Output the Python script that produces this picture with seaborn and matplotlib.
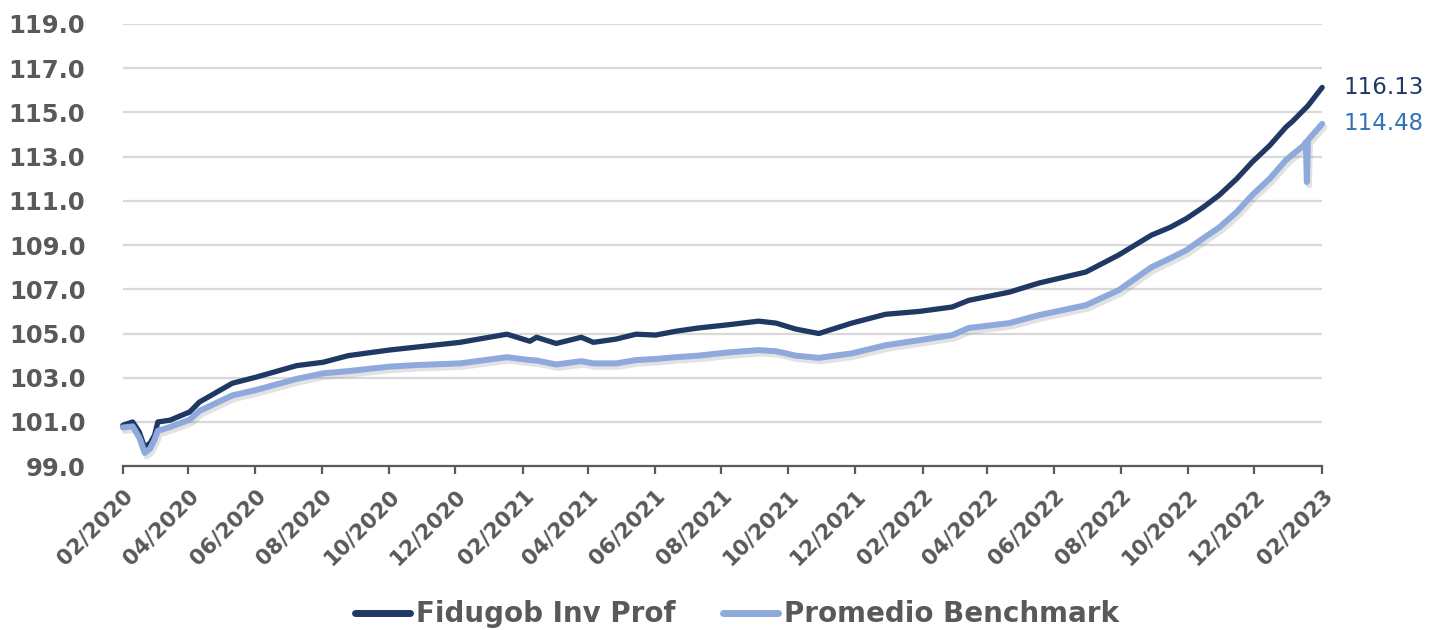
import pandas as pd
import matplotlib.pyplot as plt
import matplotlib.dates as mdates
import matplotlib.ticker as mticker
import matplotlib.patheffects as pe
import seaborn as sns

# ── Datos ────────────────────────────────────────────────
fechas = [
    "2020-02-01", "2020-02-10", "2020-02-16", "2020-02-21", "2020-02-26",
    "2020-03-01", "2020-03-04", "2020-03-15", "2020-04-02", "2020-04-11",
    "2020-05-11", "2020-06-02", "2020-07-09", "2020-08-02", "2020-08-25",
    "2020-10-01", "2020-10-25", "2020-12-05", "2021-01-17", "2021-02-07",
    "2021-02-13", "2021-03-03", "2021-03-26", "2021-04-06", "2021-04-27",
    "2021-05-15", "2021-06-02", "2021-06-20", "2021-07-11", "2021-08-08",
    "2021-09-04", "2021-09-20", "2021-10-08", "2021-10-29", "2021-11-28",
    "2021-12-29", "2022-01-29", "2022-02-28", "2022-03-15", "2022-04-21",
    "2022-05-18", "2022-06-30", "2022-07-30", "2022-08-29", "2022-09-15",
    "2022-09-30", "2022-10-15", "2022-10-30", "2022-11-15", "2022-11-29",
    "2022-12-15", "2022-12-30", "2023-01-05", "2023-01-15", "2023-01-17",
    "2023-01-18", "2023-01-19", "2023-02-01",
]
fidugob = [
    100.85, 101.0, 100.55, 99.85, 100.05,
    100.4, 101.0, 101.08, 101.45, 101.9,
    102.75, 103.03, 103.55, 103.7, 104.0,
    104.25, 104.38, 104.6, 104.97, 104.65,
    104.83, 104.55, 104.83, 104.6, 104.75,
    104.97, 104.93, 105.1, 105.25, 105.4,
    105.56, 105.47, 105.2, 105.0, 105.47,
    105.87, 106.0, 106.2, 106.5, 106.87,
    107.28, 107.78, 108.55, 109.45, 109.8,
    110.2, 110.7, 111.26, 112.0, 112.75,
    113.5, 114.34, 114.6, 115.1, 115.2,
    115.25, 115.3, 116.13,
]
benchmark = [
    100.75, 100.8, 100.3, 99.6, 99.8,
    100.2, 100.6, 100.77, 101.1, 101.5,
    102.2, 102.45, 102.95, 103.2, 103.3,
    103.5, 103.57, 103.65, 103.93, 103.8,
    103.78, 103.6, 103.75, 103.65, 103.65,
    103.8, 103.85, 103.93, 104.0, 104.15,
    104.25, 104.2, 104.0, 103.9, 104.1,
    104.47, 104.7, 104.93, 105.25, 105.47,
    105.83, 106.28, 106.96, 108.0, 108.4,
    108.77, 109.3, 109.8, 110.5, 111.26,
    112.0, 112.85, 113.1, 113.5, 113.65,
    111.85, 113.75, 114.48,
]
series = ["Fidugob Inv Prof", "Promedio Benchmark"]
colores = {"Fidugob Inv Prof": "#1F3864", "Promedio Benchmark": "#8EA9DB"}
colores_etiqueta = {"Fidugob Inv Prof": "#1F3864", "Promedio Benchmark": "#2E75B6"}
y_ticks = [99, 101, 103, 105, 107, 109, 111, 113, 115, 117, 119]

df = pd.DataFrame({"fecha": pd.to_datetime(fechas),
                   series[0]: fidugob, series[1]: benchmark})
largo = df.melt(id_vars="fecha", var_name="serie", value_name="valor")

# ── Estilo ───────────────────────────────────────────────
sns.set_theme(style="white")
plt.rcParams["font.family"] = ["DejaVu Sans"]
gris = "#595959"

fig = plt.figure(figsize=(14.45, 6.3), dpi=100)
ax = fig.add_axes([0.085, 0.26, 0.83, 0.702])

sns.lineplot(data=largo, x="fecha", y="valor", hue="serie", hue_order=series,
             palette=colores, linewidth=3.8, ax=ax)

for linea in ax.lines[:2]:
    linea.set_solid_capstyle("round")
    linea.set_solid_joinstyle("round")
    linea.set_clip_on(False)
ax.lines[1].set_linewidth(4.3)
ax.lines[1].set_path_effects([
    pe.SimpleLineShadow(offset=(1.5, -2.5), shadow_color="#8c8c8c", alpha=0.25),
    pe.Normal(),
])

# ── Etiquetas al final de cada serie ─────────────────────
for s in series:
    v = df[s].iloc[-1]
    ax.annotate(f"{v:.2f}", xy=(df["fecha"].iloc[-1], v), xytext=(15, 0),
                textcoords="offset points", ha="left", va="center",
                fontsize=16.5, color=colores_etiqueta[s], annotation_clip=False)

# ── Ejes ─────────────────────────────────────────────────
ax.set_xlim(df["fecha"].iloc[0], df["fecha"].iloc[-1])
ax.set_ylim(99, 119)
ax.set_yticks(y_ticks)
ax.yaxis.set_major_formatter(mticker.FormatStrFormatter("%.1f"))
ax.xaxis.set_major_locator(mdates.MonthLocator(bymonth=[2, 4, 6, 8, 10, 12]))
ax.xaxis.set_major_formatter(mdates.DateFormatter("%m/%Y"))
ax.set_xlabel("")
ax.set_ylabel("")

ax.yaxis.grid(True, color="#D9D9D9", linewidth=1.6)
ax.set_axisbelow(True)
sns.despine(ax=ax, left=True)
ax.spines["bottom"].set_color(gris)
ax.spines["bottom"].set_linewidth(1.6)

ax.tick_params(axis="y", length=0, pad=27, labelsize=17.5, labelcolor=gris)
ax.tick_params(axis="x", length=6, width=1.6, color=gris, pad=8,
               labelsize=15.5, labelcolor=gris, bottom=True)
for t in ax.get_yticklabels():
    t.set_fontweight("bold")
for t in ax.get_xticklabels():
    t.set_fontweight("bold")
    t.set_rotation(45)
    t.set_ha("right")
    t.set_va("top")
    t.set_rotation_mode("anchor")

# ── Leyenda ──────────────────────────────────────────────
sns.move_legend(ax, "center", bbox_to_anchor=(0.51, 0.025),
                bbox_transform=fig.transFigure, ncol=2, frameon=False,
                title=None, fontsize=20, handlelength=2.0,
                handletextpad=0.2, columnspacing=1.7)
leg = ax.get_legend()
for t in leg.get_texts():
    t.set_color(gris)
    t.set_fontweight("bold")
for h in leg.legend_handles:
    h.set_linewidth(5)
    h.set_solid_capstyle("round")

plt.savefig("out.png", dpi=100)
